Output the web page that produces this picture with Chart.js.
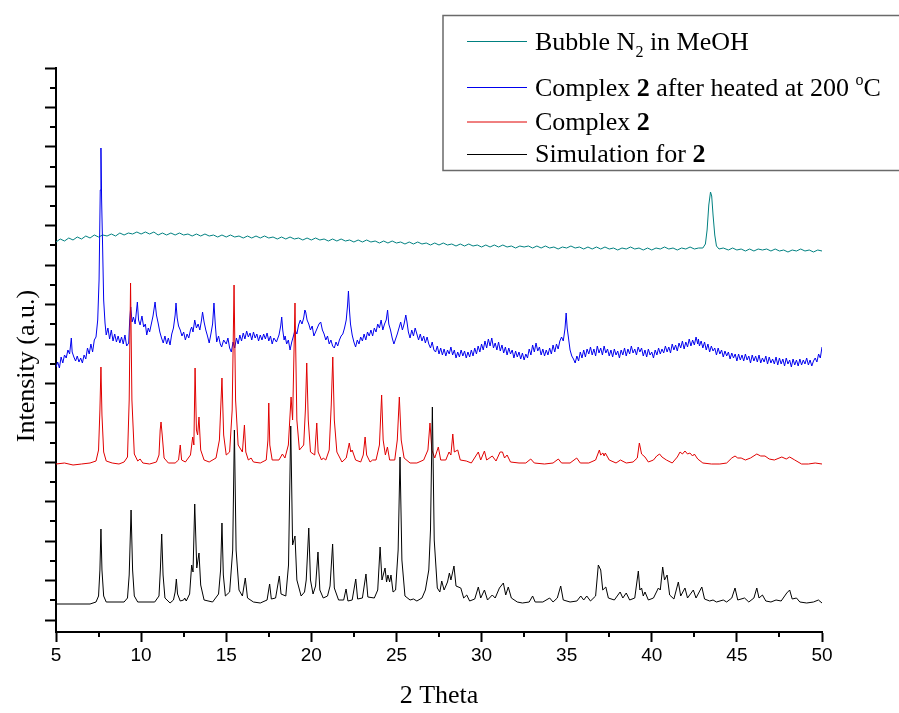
<!DOCTYPE html>
<html><head><meta charset="utf-8">
<script src="https://cdn.jsdelivr.net/npm/chart.js@4/dist/chart.umd.min.js"></script>
<style>html,body{margin:0;padding:0;background:#fff}</style>
</head><body>
<canvas id="c" width="899" height="713"></canvas>
<script>
// ---------- data (2θ, intensity a.u., traces offset as in the figure) ----------
const seriesNames = ['Simulation for 2', 'Complex 2', 'Complex 2 after heated at 200 °C', 'Bubble N2 in MeOH'];
const xTickValues = [5, 10, 15, 20, 25, 30, 35, 40, 45, 50];
const xMinorTickValues = [7.5, 12.5, 17.5, 22.5, 27.5, 32.5, 37.5, 42.5, 47.5];
const yMajorTickValues = [0, 39.43, 78.86, 118.29, 157.71, 197.14, 236.57, 276, 315.43, 354.86, 394.29, 433.71, 473.14, 512.57, 552];
const yMinorTickValues = [19.71, 59.14, 98.57, 138, 177.43, 216.86, 256.29, 295.71, 335.14, 374.57, 414, 453.43, 492.86, 532.29];
const xTitle = '2 Theta';
const yTitle = 'Intensity (a.u.)';

const simulation = [[5,16],[7.0,16],[7.35,18],[7.5,24],[7.58,50],[7.64,91],[7.7,50],[7.8,24],[7.95,18],
[9.0,18],[9.2,22],[9.3,45],[9.41,110],[9.5,50],[9.6,24],[9.8,18],
[10.8,18],[11.05,24],[11.13,50],[11.21,86],[11.29,45],[11.4,22],[11.7,17],
[11.9,20],[12.0,28],[12.07,41],[12.14,26],[12.3,19],[12.5,20],[12.56,22],[12.65,19],[12.85,26],[12.97,55],[13.05,48],[13.15,116],[13.27,52],[13.40,67],[13.5,35],[13.7,20],[14.2,18],
[14.55,26],[14.67,50],[14.75,97],[14.83,45],[14.95,24],[15.2,28],[15.38,70],[15.48,190],[15.58,70],[15.75,30],[15.95,24],[16.12,42],[16.25,22],[16.6,18],[17.0,17],
[17.4,20],[17.55,36],[17.65,21],[17.9,22],[18.12,44],[18.22,26],[18.5,24],[18.66,55],[18.79,194],[18.9,75],[19.04,84],[19.15,40],[19.4,24],[19.6,28],[19.7,40],[19.85,92],[19.95,40],[20.1,26],[20.25,34],[20.39,68],[20.5,30],[20.7,22],[20.95,24],[21.1,34],[21.25,76],[21.35,32],[21.6,20],[21.9,20],[22.04,31],[22.15,19],[22.4,20],[22.61,41],[22.72,21],[23.0,22],[23.21,46],[23.32,23],[23.7,22],[23.9,30],[24.04,73],[24.15,40],[24.33,52],[24.42,38],[24.5,45],[24.6,38],[24.68,45],[24.8,28],[24.95,30],[25.1,70],[25.21,163],[25.32,60],[25.5,24],[25.8,20],[26.0,21],[26.2,19],[26.5,22],[26.7,30],[26.9,50],[27.0,90],[27.11,213],[27.22,80],[27.4,32],[27.55,28],[27.66,39],[27.8,30],[28.0,38],[28.11,47],[28.2,40],[28.38,54],[28.5,34],[28.78,32],[28.95,22],[29.13,25],[29.3,19],[29.6,21],[29.81,33],[29.95,22],[30.17,30],[30.35,20],[30.63,25],[30.8,22],[31.05,32],[31.28,37],[31.42,25],[31.57,33],[31.75,22],[32.1,18],[32.4,17],[32.8,18],[33.0,24],[33.15,18],[33.6,18],[34.0,22],[34.2,18],[34.45,22],[34.65,34],[34.8,20],[35.2,18],[35.6,19],[35.83,24],[36.0,20],[36.18,24],[36.4,19],[36.7,24],[36.86,55],[37.0,50],[37.12,30],[37.3,33],[37.45,22],[37.8,20],[38.14,28],[38.3,22],[38.5,27],[38.7,20],[39.0,22],[39.21,49],[39.3,30],[39.4,32],[39.5,24],[39.6,28],[39.8,20],[40.1,22],[40.39,32],[40.5,30],[40.64,53],[40.75,40],[40.9,45],[41.05,25],[41.3,21],[41.56,38],[41.7,24],[41.95,32],[42.1,22],[42.44,30],[42.6,22],[42.94,33],[43.1,21],[43.4,19],[43.6,20],[43.8,18],[44.2,20],[44.4,18],[44.7,22],[44.89,32],[45.05,20],[45.45,22],[45.7,18],[46.0,22],[46.17,32],[46.3,22],[46.5,25],[46.7,19],[47.0,18],[47.3,20],[47.6,19],[47.93,27],[48.1,30],[48.25,21],[48.5,22],[48.7,18],[49.1,17],[49.5,18],[49.79,20],[50.0,17]];

const complex2 = [[5,156],[5.5,157],[6,155],[6.5,156],[7.0,157],[7.35,159],[7.5,170],[7.58,210],[7.64,253],[7.7,205],[7.8,168],[7.95,159],[8.3,157],[8.7,156],[9.0,158],[9.2,163],[9.3,220],[9.38,337],[9.46,220],[9.6,166],[9.8,159],[9.94,161],[10.1,157],[10.5,156],[10.9,158],[11.05,165],[11.12,190],[11.17,198],[11.24,185],[11.35,162],[11.6,157],[12.0,157],[12.2,160],[12.30,175],[12.38,160],[12.6,158],[12.9,165],[13.03,183],[13.1,175],[13.17,252],[13.25,190],[13.32,185],[13.40,203],[13.5,170],[13.7,160],[14.0,158],[14.4,162],[14.6,180],[14.75,242],[14.85,185],[15.0,165],[15.2,168],[15.35,210],[15.46,335],[15.55,220],[15.7,175],[15.95,168],[16.07,195],[16.15,168],[16.3,160],[16.46,162],[16.6,158],[17.0,157],[17.35,160],[17.45,180],[17.50,217],[17.56,175],[17.7,160],[18.1,160],[18.30,166],[18.45,162],[18.65,175],[18.81,223],[18.9,200],[19.04,317],[19.15,200],[19.3,170],[19.55,175],[19.65,210],[19.73,257],[19.82,200],[19.95,168],[20.2,165],[20.32,197],[20.4,168],[20.6,160],[20.7,162],[20.85,160],[21.05,170],[21.17,215],[21.26,263],[21.35,200],[21.5,168],[21.8,158],[22.05,162],[22.23,177],[22.32,168],[22.4,170],[22.6,160],[22.9,158],[23.05,165],[23.16,183],[23.25,165],[23.45,158],[23.6,160],[23.8,160],[24.0,175],[24.13,225],[24.22,180],[24.35,165],[24.47,173],[24.6,160],[24.9,160],[25.05,180],[25.17,223],[25.28,180],[25.45,162],[25.8,157],[26.2,157],[26.6,160],[26.85,170],[26.97,197],[27.08,170],[27.25,162],[27.46,173],[27.6,160],[27.9,160],[28.09,168],[28.2,165],[28.31,186],[28.4,168],[28.6,170],[28.75,160],[29.1,159],[29.4,157],[29.81,168],[29.95,160],[30.17,169],[30.3,160],[30.63,164],[30.85,159],[31.09,168],[31.23,168],[31.35,162],[31.5,165],[31.7,158],[32.2,157],[32.6,157],[32.89,161],[33.1,157],[33.7,156],[34.2,157],[34.51,161],[34.7,157],[35.2,157],[35.59,162],[35.8,157],[36.3,157],[36.7,160],[36.92,170],[37.0,165],[37.13,167],[37.2,164],[37.27,167],[37.5,160],[37.9,157],[38.16,160],[38.5,157],[38.9,158],[39.15,162],[39.27,177],[39.4,166],[39.6,163],[39.8,158],[40.1,160],[40.29,164],[40.46,166],[40.6,163],[40.86,160],[41.2,157],[41.5,163],[41.66,168],[41.8,166],[41.95,169],[42.1,166],[42.24,167],[42.4,164],[42.5,166],[42.7,161],[43.0,157],[43.5,156],[44.0,156],[44.4,157],[44.7,162],[44.89,164],[45.05,162],[45.25,162],[45.5,160],[45.8,162],[46.17,166],[46.4,164],[46.65,164],[46.9,161],[47.2,160],[47.64,163],[47.9,161],[48.1,163],[48.4,160],[48.8,156],[49.2,156],[49.6,157],[50.0,156]];

const heated200 = [[5.0,253],[5.1,258],[5.2,252],[5.3,263],[5.4,257],[5.5,265],[5.6,262],[5.7,270],[5.8,266],[5.9,282],[5.95,268],[6.05,263],[6.15,259],[6.25,264],[6.35,258],[6.45,262],[6.55,257],[6.65,265],[6.75,261],[6.85,272],[6.95,266],[7.05,276],[7.15,268],[7.25,280],[7.35,283],[7.45,300],[7.53,340],[7.6,430],[7.64,472],[7.68,420],[7.73,380],[7.8,320],[7.88,297],[7.95,285],[8.05,292],[8.15,281],[8.25,290],[8.35,279],[8.45,286],[8.55,278],[8.65,284],[8.75,277],[8.85,283],[8.95,276],[9.05,285],[9.15,274],[9.27,277],[9.33,300],[9.39,313],[9.47,298],[9.55,303],[9.65,296],[9.72,308],[9.78,318],[9.85,300],[9.94,295],[10.05,304],[10.15,293],[10.25,296],[10.33,285],[10.42,292],[10.5,288],[10.6,296],[10.7,304],[10.82,318],[10.9,305],[11.0,297],[11.1,288],[11.2,282],[11.3,277],[11.4,284],[11.5,276],[11.6,282],[11.7,275],[11.8,286],[11.9,292],[12.0,305],[12.05,317],[12.12,302],[12.2,294],[12.3,290],[12.4,284],[12.5,288],[12.6,280],[12.7,286],[12.8,282],[12.9,290],[12.97,293],[13.05,288],[13.15,300],[13.25,292],[13.35,296],[13.45,290],[13.55,300],[13.61,308],[13.7,298],[13.8,290],[13.9,284],[14.0,277],[14.1,286],[14.2,296],[14.28,317],[14.36,295],[14.44,278],[14.55,284],[14.65,276],[14.73,273],[14.85,280],[15.0,276],[15.1,282],[15.2,272],[15.3,268],[15.4,278],[15.5,272],[15.6,282],[15.7,276],[15.8,285],[15.9,279],[16.0,287],[16.1,281],[16.2,289],[16.3,283],[16.4,287],[16.5,280],[16.6,288],[16.7,282],[16.8,286],[16.9,279],[17.0,285],[17.1,280],[17.2,286],[17.3,281],[17.4,287],[17.5,279],[17.6,284],[17.7,276],[17.8,282],[17.95,278],[18.1,285],[18.2,294],[18.26,303],[18.32,290],[18.4,280],[18.46,284],[18.55,276],[18.65,280],[18.75,270],[18.85,278],[18.95,284],[19.04,290],[19.15,286],[19.25,295],[19.35,300],[19.45,296],[19.55,302],[19.62,310],[19.67,308],[19.75,300],[19.85,296],[19.95,290],[20.05,294],[20.15,284],[20.25,288],[20.35,292],[20.45,296],[20.55,298],[20.65,290],[20.75,286],[20.85,280],[20.95,284],[21.05,276],[21.15,280],[21.25,274],[21.35,272],[21.45,278],[21.55,274],[21.65,280],[21.75,284],[21.85,286],[21.95,292],[22.05,300],[22.13,315],[22.18,329],[22.24,310],[22.3,296],[22.4,285],[22.5,278],[22.6,273],[22.7,280],[22.8,276],[22.9,283],[23.0,279],[23.1,286],[23.2,280],[23.3,288],[23.4,284],[23.5,290],[23.6,284],[23.7,292],[23.8,288],[23.9,296],[24.0,292],[24.1,300],[24.2,290],[24.3,296],[24.4,300],[24.48,310],[24.55,296],[24.65,290],[24.75,282],[24.85,276],[24.95,281],[25.05,286],[25.15,292],[25.25,298],[25.35,290],[25.45,296],[25.55,305],[25.62,298],[25.7,288],[25.8,282],[25.9,290],[26.0,284],[26.1,292],[26.2,286],[26.3,280],[26.4,286],[26.5,279],[26.6,284],[26.7,277],[26.8,283],[26.9,276],[27.0,272],[27.1,278],[27.2,270],[27.3,268],[27.4,274],[27.5,266],[27.6,272],[27.7,265],[27.8,271],[27.9,264],[28.0,270],[28.1,266],[28.2,273],[28.3,265],[28.4,270],[28.5,262],[28.6,268],[28.7,263],[28.8,270],[28.9,264],[29.0,269],[29.1,262],[29.2,268],[29.3,263],[29.4,270],[29.5,264],[29.6,272],[29.7,266],[29.8,274],[29.9,268],[30.0,276],[30.1,270],[30.2,279],[30.3,272],[30.4,281],[30.5,274],[30.6,282],[30.7,272],[30.8,277],[30.9,270],[31.0,278],[31.1,269],[31.2,275],[31.3,267],[31.4,273],[31.5,265],[31.6,272],[31.7,266],[31.8,270],[31.9,262],[32.0,269],[32.1,263],[32.2,268],[32.3,261],[32.4,267],[32.5,260],[32.6,266],[32.7,262],[32.8,271],[32.9,265],[33.0,275],[33.1,268],[33.2,277],[33.3,269],[33.4,273],[33.5,265],[33.6,271],[33.7,264],[33.8,270],[33.9,265],[34.0,272],[34.1,266],[34.2,275],[34.3,268],[34.4,276],[34.5,271],[34.6,279],[34.7,283],[34.8,279],[34.9,291],[34.97,307],[35.03,292],[35.1,283],[35.2,270],[35.3,264],[35.4,261],[35.5,257],[35.6,264],[35.7,259],[35.8,268],[35.9,262],[36.0,270],[36.1,263],[36.2,271],[36.3,266],[36.4,273],[36.5,265],[36.6,271],[36.7,264],[36.8,274],[36.9,267],[37.0,272],[37.1,265],[37.2,274],[37.3,267],[37.4,271],[37.5,264],[37.6,270],[37.7,263],[37.8,271],[37.9,265],[38.0,269],[38.1,262],[38.2,270],[38.3,265],[38.4,272],[38.5,264],[38.6,271],[38.7,266],[38.8,274],[38.9,267],[39.0,271],[39.1,265],[39.2,273],[39.3,268],[39.4,272],[39.5,264],[39.6,270],[39.7,263],[39.8,271],[39.9,265],[40.0,268],[40.1,262],[40.2,270],[40.3,265],[40.4,272],[40.5,266],[40.6,271],[40.7,267],[40.8,274],[40.9,268],[41.0,273],[41.1,267],[41.2,276],[41.3,270],[41.4,275],[41.5,269],[41.6,277],[41.7,272],[41.8,279],[41.9,271],[42.0,278],[42.1,273],[42.2,281],[42.3,274],[42.4,280],[42.5,275],[42.6,283],[42.7,276],[42.74,281],[42.8,274],[42.9,279],[43.0,272],[43.1,278],[43.2,270],[43.3,276],[43.4,268],[43.5,274],[43.6,269],[43.7,272],[43.8,265],[43.9,272],[44.0,266],[44.1,270],[44.2,263],[44.3,269],[44.4,264],[44.5,268],[44.6,261],[44.7,267],[44.8,262],[44.9,266],[45.0,259],[45.1,266],[45.2,260],[45.3,265],[45.4,259],[45.5,266],[45.6,260],[45.7,264],[45.8,257],[45.9,265],[46.0,259],[46.1,264],[46.2,258],[46.3,265],[46.4,257],[46.5,262],[46.6,258],[46.7,264],[46.8,256],[46.9,263],[47.0,257],[47.1,261],[47.2,256],[47.3,263],[47.4,255],[47.5,262],[47.6,256],[47.7,261],[47.8,254],[47.9,262],[48.0,256],[48.1,260],[48.2,253],[48.3,261],[48.4,255],[48.5,260],[48.6,254],[48.7,261],[48.8,255],[48.9,260],[49.0,256],[49.1,262],[49.2,255],[49.3,260],[49.4,254],[49.5,259],[49.6,262],[49.7,258],[49.8,266],[49.9,262],[50.0,273]];

const bubbleN2 = [[5.0,378],[5.25,381],[5.5,379],[5.75,382],[6.0,380],[6.25,383],[6.5,381],[6.75,384],[7.0,382],[7.25,385],[7.5,383],[7.75,385],[8.0,384],[8.25,386],[8.5,384],[8.75,387],[9.0,385],[9.25,387],[9.5,386],[9.75,388],[10.0,386],[10.25,388],[10.5,386],[10.75,388],[11.0,385],[11.25,387],[11.5,385],[11.75,387],[12.0,385],[12.25,387],[12.5,385],[12.75,386],[13.0,384],[13.25,386],[13.5,384],[13.75,386],[14.0,384],[14.25,385],[14.5,383],[14.75,385],[15.0,383],[15.25,385],[15.5,383],[15.75,384],[16.0,382],[16.25,384],[16.5,382],[16.75,384],[17.0,382],[17.25,384],[17.5,382],[17.75,383],[18.0,381],[18.25,383],[18.5,381],[18.75,383],[19.0,381],[19.25,382],[19.5,380],[19.75,382],[20.0,380],[20.25,382],[20.5,380],[20.75,381],[21.0,379],[21.25,381],[21.5,379],[21.75,381],[22.0,379],[22.25,380],[22.5,378],[22.75,380],[23.0,378],[23.25,380],[23.5,378],[23.75,379],[24.0,377],[24.25,379],[24.5,377],[24.75,379],[25.0,377],[25.25,378],[25.5,376],[25.75,378],[26.0,376],[26.25,378],[26.5,376],[26.75,377],[27.0,375],[27.25,377],[27.5,375],[27.75,377],[28.0,375],[28.25,376],[28.5,374],[28.75,376],[29.0,374],[29.25,376],[29.5,374],[29.75,375],[30.0,373],[30.25,375],[30.5,373],[30.75,375],[31.0,373],[31.25,375],[31.5,373],[31.75,374],[32.0,372],[32.25,374],[32.5,373],[32.75,374],[33.0,372],[33.25,374],[33.5,372],[33.75,374],[34.0,372],[34.25,373],[34.5,371],[34.75,373],[35.0,372],[35.25,374],[35.5,372],[35.75,373],[36.0,371],[36.25,373],[36.5,371],[36.75,373],[37.0,371],[37.25,373],[37.5,371],[37.75,372],[38.0,370],[38.25,372],[38.5,371],[38.75,373],[39.0,371],[39.25,372],[39.5,370],[39.75,372],[40.0,370],[40.25,372],[40.5,371],[40.75,373],[41.0,371],[41.25,372],[41.5,370],[41.75,372],[42.0,371],[42.25,373],[42.5,371],[42.75,372],[43.0,372],[43.15,376],[43.25,390],[43.35,415],[43.45,428],[43.52,424],[43.6,405],[43.7,385],[43.8,374],[43.95,371],[44.2,372],[44.5,370],[44.75,372],[45.0,370],[45.25,371],[45.5,369],[45.75,371],[46.0,369],[46.25,371],[46.5,370],[46.75,371],[47.0,369],[47.25,371],[47.5,369],[47.75,370],[48.0,368],[48.25,370],[48.5,369],[48.75,371],[49.0,369],[49.25,370],[49.5,368],[49.75,370],[50.0,369]];

const lineColors = ['#000000', '#e00000', '#0000ee', '#008080'];

// ---------- rich legend text (bold / sub / superscript parts) ----------
const legendParts = [
  [['Bubble N', 'n'], ['2', 'sub'], [' in MeOH', 'n']],
  [['Complex ', 'n'], ['2', 'b'], [' after heated at 200 ', 'n'], ['o', 'sup'], ['C', 'n']],
  [['Complex ', 'n'], ['2', 'b']],
  [['Simulation for ', 'n'], ['2', 'b']]
];
const legendOrder = [3, 2, 1, 0]; // dataset index for each legend row

const FONT = '"Liberation Serif", "Times New Roman", serif';

const axisDecor = {
  id: 'axisDecor',
  afterDraw(chart) {
    const ctx = chart.ctx, xs = chart.scales.x, ys = chart.scales.y;
    const area = chart.chartArea;
    ctx.save();
    ctx.strokeStyle = '#000';
    ctx.lineWidth = 2;
    ctx.beginPath();
    xMinorTickValues.forEach(v => {
      const p = Math.round(xs.getPixelForValue(v));
      ctx.moveTo(p, area.bottom); ctx.lineTo(p, area.bottom + 5);
    });
    yMinorTickValues.forEach(v => {
      const p = Math.round(ys.getPixelForValue(v));
      ctx.moveTo(area.left - 6, p); ctx.lineTo(area.left, p);
    });
    ctx.stroke();

    // y axis title
    ctx.save();
    ctx.translate(27, 366);
    ctx.rotate(-Math.PI / 2);
    ctx.fillStyle = '#000';
    ctx.font = '26px ' + FONT;
    ctx.textAlign = 'center';
    ctx.textBaseline = 'middle';
    ctx.fillText(yTitle, 0, 0);
    ctx.restore();

    // legend box
    const box = {l: 443, t: 15.5, r: 910, b: 170.5};
    ctx.fillStyle = '#fff';
    ctx.fillRect(box.l, box.t, box.r - box.l, box.b - box.t);
    ctx.strokeStyle = '#6a6a6a';
    ctx.lineWidth = 1.5;
    ctx.strokeRect(box.l, box.t, box.r - box.l, box.b - box.t);

    const rowLineY = [41.5, 87.5, 122, 154.5];
    const rowBaseY = [50, 95.5, 130, 161.5];
    legendParts.forEach((parts, i) => {
      const ds = chart.data.datasets[legendOrder[i]];
      ctx.strokeStyle = ds.borderColor;
      ctx.lineWidth = 1;
      ctx.beginPath();
      ctx.moveTo(467, rowLineY[i]); ctx.lineTo(527, rowLineY[i]);
      ctx.stroke();
      let x = 535;
      ctx.fillStyle = '#000';
      ctx.textBaseline = 'alphabetic';
      ctx.textAlign = 'left';
      parts.forEach(([txt, kind]) => {
        let y = rowBaseY[i];
        if (kind === 'b') ctx.font = 'bold 26px ' + FONT;
        else if (kind === 'sub') { ctx.font = '16px ' + FONT; y += 7; }
        else if (kind === 'sup') { ctx.font = '16px ' + FONT; y -= 11; }
        else ctx.font = '26px ' + FONT;
        ctx.fillText(txt, x, y);
        x += ctx.measureText(txt).width;
      });
    });
    ctx.restore();
  }
};

const datasets = [simulation, complex2, heated200, bubbleN2].map((d, i) => ({
  label: seriesNames[i],
  data: d,
  borderColor: lineColors[i],
  backgroundColor: lineColors[i],
  borderWidth: 1,
  pointRadius: 0,
  tension: 0,
  fill: false
}));

new Chart(document.getElementById('c'), {
  type: 'line',
  data: { datasets },
  options: {
    responsive: false,
    devicePixelRatio: 1,
    animation: false,
    events: [],
    layout: { padding: { top: 68, right: 77, left: 0, bottom: 0 } },
    plugins: { legend: { display: false }, tooltip: { enabled: false } },
    scales: {
      x: {
        type: 'linear', min: 5, max: 50,
        afterBuildTicks: s => { s.ticks = xTickValues.map(v => ({ value: v })); },
        afterFit: s => { s.height = 81; },
        border: { color: '#000', width: 2 },
        grid: { drawOnChartArea: false, tickLength: 10, tickWidth: 2, tickColor: '#000' },
        ticks: { color: '#000', font: { family: '"Liberation Sans", Arial, sans-serif', size: 19 }, padding: 2, maxRotation: 0 },
        title: { display: true, text: xTitle, color: '#000', font: { family: FONT, size: 26 }, padding: { top: 0, bottom: 1 } }
      },
      y: {
        type: 'linear', min: -12, max: 552,
        afterBuildTicks: s => { s.ticks = yMajorTickValues.map(v => ({ value: v })); },
        afterFit: s => { s.width = 56; },
        border: { color: '#000', width: 2 },
        grid: { drawOnChartArea: false, tickLength: 11, tickWidth: 2, tickColor: '#000' },
        ticks: { display: false },
        title: { display: false }
      }
    }
  },
  plugins: [axisDecor]
});
</script>
</body></html>
